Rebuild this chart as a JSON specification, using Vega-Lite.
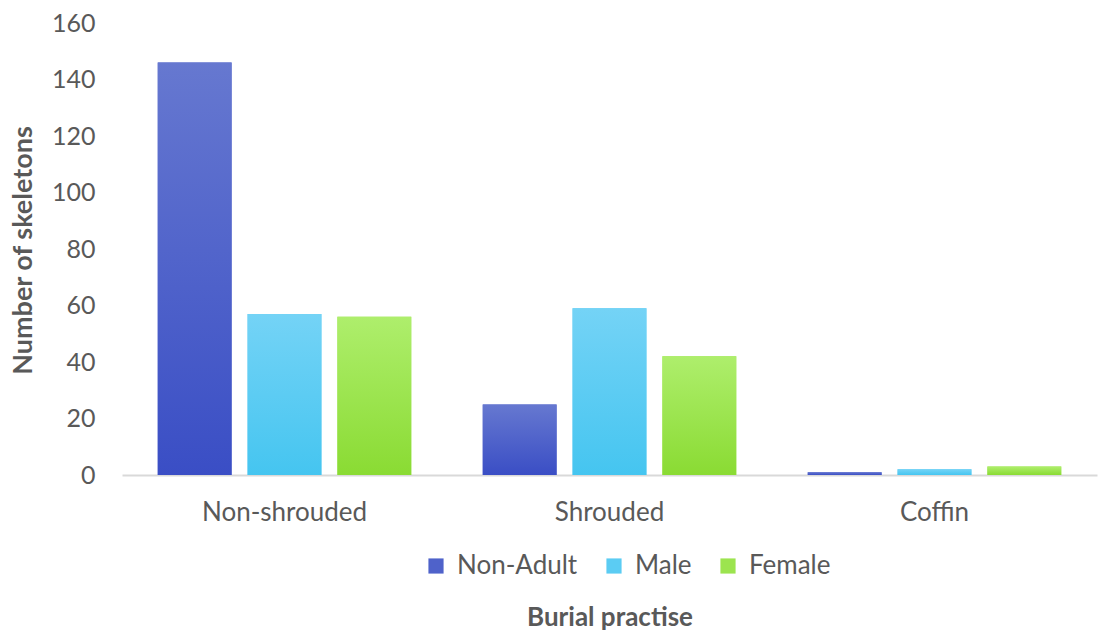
{
  "$schema": "https://vega.github.io/schema/vega-lite/v6.json",
  "width": 975,
  "height": 452,
  "autosize": {"type": "none"},
  "padding": {"left": 122, "top": 23, "right": 1, "bottom": 156},
  "background": "white",
  "config": {"view": {"stroke": null}, "font": "Lato"},
  "data": {
    "values": [
      {"practise": "Non-shrouded", "group": "Non-Adult", "count": 146},
      {"practise": "Non-shrouded", "group": "Male", "count": 57},
      {"practise": "Non-shrouded", "group": "Female", "count": 56},
      {"practise": "Shrouded", "group": "Non-Adult", "count": 25},
      {"practise": "Shrouded", "group": "Male", "count": 59},
      {"practise": "Shrouded", "group": "Female", "count": 42},
      {"practise": "Coffin", "group": "Non-Adult", "count": 1},
      {"practise": "Coffin", "group": "Male", "count": 2},
      {"practise": "Coffin", "group": "Female", "count": 3}
    ]
  },
  "encoding": {
    "x": {
      "field": "practise",
      "type": "nominal",
      "sort": ["Non-shrouded", "Shrouded", "Coffin"],
      "scale": {"paddingInner": 0.22, "paddingOuter": 0.11},
      "axis": {
        "title": "Burial practise",
        "titleFontSize": 26,
        "titleFontWeight": "bold",
        "titleColor": "#595959",
        "titleBaseline": "middle",
        "titleY": 142,
        "labelAngle": 0,
        "labelFontSize": 26,
        "labelColor": "#595959",
        "labelPadding": 24,
        "ticks": false,
        "domainColor": "#d9d9d9",
        "domainWidth": 2,
        "grid": false
      }
    },
    "xOffset": {
      "field": "group",
      "type": "nominal",
      "sort": ["Non-Adult", "Male", "Female"],
      "scale": {"paddingInner": 0.178, "paddingOuter": 0}
    },
    "y": {
      "field": "count",
      "type": "quantitative",
      "scale": {"domain": [0, 160]},
      "axis": {
        "title": "Number of skeletons",
        "titleFontSize": 27,
        "titleFontWeight": "bold",
        "titleColor": "#595959",
        "titleX": -99,
        "titleY": 227,
        "titleBaseline": "middle",
        "titleAlign": "center",
        "titleAngle": -90,
        "values": [0, 20, 40, 60, 80, 100, 120, 140, 160],
        "labelFontSize": 25,
        "labelColor": "#595959",
        "labelPadding": 27,
        "ticks": false,
        "domain": false,
        "grid": false
      }
    }
  },
  "layer": [
    {
      "mark": {"type": "bar"},
      "encoding": {
        "color": {
          "field": "group",
          "type": "nominal",
          "sort": ["Non-Adult", "Male", "Female"],
          "scale": {
            "domain": ["Non-Adult", "Male", "Female"],
            "range": ["#4F62CA", "#5BCCF3", "#9CE44F"]
          },
          "legend": {
            "title": null,
            "orient": "none",
            "direction": "horizontal",
            "legendX": 301,
            "legendY": 530,
            "symbolType": "square",
            "symbolSize": 230,
            "symbolStrokeWidth": 0,
            "labelFontSize": 26,
            "labelColor": "#595959",
            "labelOffset": 8,
            "columnPadding": 23
          }
        }
      }
    },
    {
      "mark": {"type": "bar"},
      "encoding": {
        "fill": {
          "condition": [
            {"test": "datum.group === 'Male'", "value": {"gradient": "linear", "x1": 0, "y1": 0, "x2": 0, "y2": 1, "stops": [{"offset": 0, "color": "#74D3F6"}, {"offset": 1, "color": "#45C5F0"}]}},
            {"test": "datum.group === 'Female'", "value": {"gradient": "linear", "x1": 0, "y1": 0, "x2": 0, "y2": 1, "stops": [{"offset": 0, "color": "#AEEE6C"}, {"offset": 1, "color": "#8ADB33"}]}}
          ],
          "value": {"gradient": "linear", "x1": 0, "y1": 0, "x2": 0, "y2": 1, "stops": [{"offset": 0, "color": "#6678D0"}, {"offset": 1, "color": "#3A4EC5"}]}
        }
      }
    }
  ]
}
